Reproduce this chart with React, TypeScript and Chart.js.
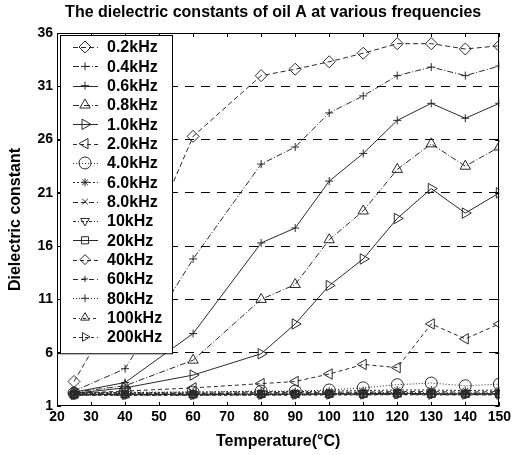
import React, { useEffect, useRef } from 'react';
import { Chart, registerables } from 'chart.js';
import { drawPoint } from 'chart.js/helpers';

Chart.register(...registerables);

const temperatures = [25, 40, 60, 80, 90, 100, 110, 120, 130, 140, 150];

const seriesLabels = ['0.2kHz', '0.4kHz', '0.6kHz', '0.8kHz', '1.0kHz', '2.0kHz', '4.0kHz', '6.0kHz', '8.0kHz', '10kHz', '20kHz', '40kHz', '60kHz', '80kHz', '100kHz', '200kHz'];

const f0_2k = [3.3, 11.5, 26.3, 32.0, 32.6, 33.3, 34.1, 35.0, 35.0, 34.5, 34.8];
const f0_4k = [2.4, 4.5, 14.8, 23.7, 25.3, 28.5, 30.1, 32.0, 32.8, 32.0, 32.9];
const f0_6k = [2.3, 3.2, 7.8, 16.3, 17.7, 22.1, 24.7, 27.8, 29.4, 28.0, 29.4];
const f0_8k = [2.3, 2.9, 5.3, 11.0, 12.4, 16.6, 19.3, 23.2, 25.6, 23.5, 25.3];
const f1_0k = [2.2, 2.7, 3.9, 5.9, 8.7, 12.3, 14.8, 18.6, 21.4, 19.1, 21.0];
const f2_0k = [2.2, 2.4, 2.7, 3.1, 3.3, 4.0, 4.9, 4.6, 8.7, 7.3, 8.7];
const f4_0k = [2.2, 2.3, 2.3, 2.4, 2.4, 2.5, 2.7, 3.0, 3.15, 2.9, 3.05];
const f6_0k = [2.25, 2.25, 2.3, 2.35, 2.35, 2.4, 2.45, 2.5, 2.5, 2.45, 2.5];
const f8_0k = [2.2, 2.2, 2.2, 2.25, 2.25, 2.3, 2.3, 2.35, 2.35, 2.3, 2.35];
const f10k = [2.15, 2.15, 2.15, 2.2, 2.2, 2.2, 2.25, 2.25, 2.25, 2.2, 2.25];
const f20k = [2.1, 2.1, 2.1, 2.12, 2.12, 2.15, 2.15, 2.2, 2.15, 2.15, 2.15];
const f40k = [2.08, 2.08, 2.08, 2.1, 2.1, 2.12, 2.12, 2.15, 2.12, 2.12, 2.12];
const f60k = [2.06, 2.06, 2.06, 2.08, 2.08, 2.1, 2.1, 2.12, 2.1, 2.1, 2.1];
const f80k = [2.04, 2.04, 2.04, 2.06, 2.06, 2.08, 2.08, 2.1, 2.08, 2.08, 2.08];
const f100k = [2.02, 2.02, 2.02, 2.04, 2.04, 2.06, 2.06, 2.08, 2.06, 2.06, 2.06];
const f200k = [2.0, 2.0, 2.0, 2.02, 2.02, 2.04, 2.04, 2.06, 2.04, 2.04, 2.04];

const seriesValues = [f0_2k, f0_4k, f0_6k, f0_8k, f1_0k, f2_0k, f4_0k, f6_0k, f8_0k, f10k, f20k, f40k, f60k, f80k, f100k, f200k];

const xMin = 20, xMax = 150, xStep = 10;
const yMin = 1, yMax = 36, yStep = 5;

const chartTitle = 'The dielectric constants of oil A at various frequencies';
const xTitle = 'Temperature(°C)';
const yTitle = 'Dielectric constant';

// styles
const dashes: number[][] = [
  [5, 3], [6, 2, 1, 2], [], [6, 2, 1, 2], [], [4, 3], [1, 2], [2, 2],
  [5, 3], [3, 2, 1, 2], [], [4, 3], [5, 3], [1, 2], [3, 3, 1, 3], [3, 3],
];
const markers = ['rectRot', 'cross', 'cross', 'triangle', 'triangle', 'triangle', 'circle', 'star', 'crossRot', 'triangle', 'rect', 'rectRot', 'cross', 'cross', 'triangle', 'triangle'];
const rotations = [0, 0, 0, 0, 90, -90, 0, 0, 0, 180, 0, 0, 0, 0, 0, 90];
const radii = [6, 4, 4, 6, 6, 6, 6, 4, 4, 5, 5, 5, 3, 4, 5, 5];

const FONT = '"Liberation Sans", Arial, Helvetica, sans-serif';
const INK = '#2a2a2a';

const framePlugin = {
  id: 'frameTitle',
  afterDatasetsDraw(chart: any) {
    const { ctx, chartArea: a, scales } = chart;
    ctx.save();
    ctx.strokeStyle = '#000';
    ctx.lineWidth = 1;
    ctx.setLineDash([]);
    ctx.strokeRect(Math.round(a.left) + 0.5, Math.round(a.top) + 0.5, Math.round(a.right - a.left) - 1, Math.round(a.bottom - a.top) - 1);
    const xs = scales.x;
    xs.ticks.forEach((t: any) => {
      const px = Math.round(xs.getPixelForValue(t.value)) + 0.5;
      ctx.beginPath();
      ctx.moveTo(px, a.bottom); ctx.lineTo(px, a.bottom - 4);
      ctx.moveTo(px, a.top); ctx.lineTo(px, a.top + 4);
      ctx.stroke();
    });
    const ys = scales.y;
    ys.ticks.forEach((t: any) => {
      const py = Math.round(ys.getPixelForValue(t.value)) + 0.5;
      ctx.beginPath();
      ctx.moveTo(a.left, py); ctx.lineTo(a.left + 4, py);
      ctx.moveTo(a.right, py); ctx.lineTo(a.right - 4, py);
      ctx.stroke();
    });
    // title
    ctx.fillStyle = '#000';
    ctx.font = `bold 16px ${FONT}`;
    ctx.textAlign = 'center';
    ctx.textBaseline = 'middle';
    ctx.fillText(chartTitle, (a.left + a.right) / 2 - 5, 13);
    ctx.restore();
  },
  afterDraw(chart: any) {
    const { ctx, chartArea: a } = chart;
    const boxL = a.left + 3, boxT = a.top + 2, boxW = 112, rowH = 19.33;
    const n = chart.data.datasets.length;
    const boxH = 14 + rowH * n - 5;
    ctx.save();
    ctx.fillStyle = '#fff';
    ctx.fillRect(boxL, boxT, boxW, boxH);
    ctx.strokeStyle = '#000';
    ctx.lineWidth = 1;
    ctx.strokeRect(Math.round(boxL) + 0.5, Math.round(boxT) + 0.5, boxW, boxH);
    chart.data.datasets.forEach((ds: any, i: number) => {
      const cy = boxT + 12 + i * rowH;
      ctx.strokeStyle = INK;
      ctx.lineWidth = 1;
      ctx.setLineDash(ds.borderDash || []);
      ctx.beginPath();
      ctx.moveTo(boxL + 13, Math.round(cy) + 0.5);
      ctx.lineTo(boxL + 38, Math.round(cy) + 0.5);
      ctx.stroke();
      ctx.setLineDash([]);
      ctx.fillStyle = 'rgba(255,255,255,0)';
      drawPoint(ctx, { pointStyle: ds.pointStyle, rotation: ds.pointRotation, radius: ds.pointRadius, borderWidth: 1 }, boxL + 25, cy);
      ctx.fillStyle = '#000';
      ctx.font = `bold 16px ${FONT}`;
      ctx.textAlign = 'left';
      ctx.textBaseline = 'middle';
      ctx.fillText(ds.label, boxL + 47, cy + 1);
    });
    ctx.restore();
  },
};

export default function App() {
  const ref = useRef<HTMLCanvasElement | null>(null);
  useEffect(() => {
    document.body.style.margin = '0';
    const canvas = ref.current;
    if (!canvas) return;
    const chart = new Chart(canvas, {
      type: 'line',
      data: {
        datasets: seriesValues.map((vals, i) => ({
          label: seriesLabels[i],
          data: temperatures.map((t, j) => ({ x: t, y: vals[j] })),
          borderColor: INK,
          backgroundColor: 'rgba(255,255,255,0)',
          borderWidth: 1,
          borderDash: dashes[i],
          pointStyle: markers[i] as any,
          pointRotation: rotations[i],
          pointRadius: radii[i],
          pointBorderWidth: 1,
          pointBorderColor: INK,
          pointBackgroundColor: 'rgba(255,255,255,0)',
          tension: 0,
          fill: false,
        })),
      },
      options: {
        responsive: false,
        animation: false,
        layout: { padding: { top: 33, right: 11, left: 0, bottom: 0 } },
        plugins: { legend: { display: false }, title: { display: false }, tooltip: { enabled: false } },
        scales: {
          x: {
            type: 'linear',
            min: xMin,
            max: xMax,
            ticks: { stepSize: xStep, color: '#000', padding: 3, font: { family: FONT, size: 14, weight: 'bold' }, maxRotation: 0 },
            grid: { display: false, drawTicks: false },
            border: { display: false },
            title: { display: true, text: xTitle, color: '#000', font: { family: FONT, size: 16, weight: 'bold' }, padding: { top: 0, bottom: 4 } },
            afterFit: (s: any) => { s.height = 49; },
          },
          y: {
            type: 'linear',
            min: yMin,
            max: yMax,
            ticks: { stepSize: yStep, color: '#000', padding: 4, font: { family: FONT, size: 14, weight: 'bold' } },
            grid: {
              drawTicks: false,
              lineWidth: 1,
              color: (c: any) => (c.tick && (c.tick.value === yMin || c.tick.value === yMax) ? 'rgba(0,0,0,0)' : '#000'),
            },
            border: { display: false, dash: [9, 7] },
            title: { display: true, text: yTitle, color: '#000', font: { family: FONT, size: 16, weight: 'bold' }, padding: { top: 6, bottom: 0 } },
            afterFit: (s: any) => { s.width = 57; },
          },
        },
      } as any,
      plugins: [framePlugin],
    });
    return () => chart.destroy();
  }, []);
  return <canvas ref={ref} width={514} height={455} style={{ display: 'block' }} />;
}
